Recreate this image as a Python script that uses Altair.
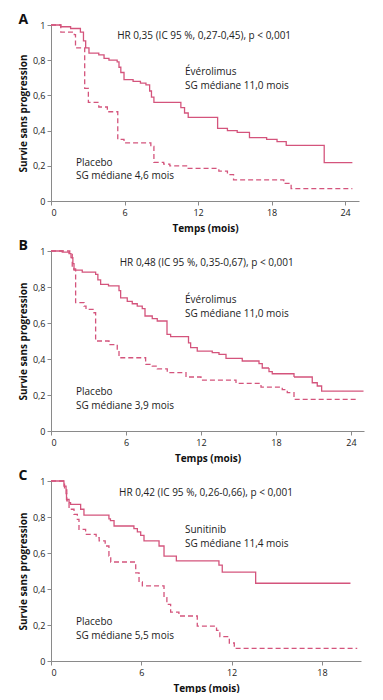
import altair as alt
import pandas as pd

FONT = "Open Sans"
PINK = "#d4547c"
AXIS_GREY = "#8a8a8a"
TEXT = "#222222"

# ---------------- Panel A ----------------
a_evero_t = [0, 0.8, 1.6, 2.4, 2.65, 2.83, 3.1, 3.9, 4.33, 4.73, 5.4, 5.55, 5.7, 5.96, 6.7, 7.3, 7.75,
             8.05, 8.2, 8.4, 10.6, 10.9, 11.2, 13.6, 14.4, 15.2, 16.2, 17.6, 18.45, 19.2, 22.3, 24.6]
a_evero_s = [1.0, 0.99, 0.98, 0.96, 0.91, 0.87, 0.84, 0.83, 0.81, 0.80, 0.79, 0.76, 0.73, 0.69, 0.68, 0.67, 0.66,
             0.625, 0.59, 0.56, 0.53, 0.50, 0.475, 0.413, 0.40, 0.39, 0.36, 0.35, 0.337, 0.316, 0.218, 0.218]
a_plac_t = [0, 0.8, 1.9, 2.0, 2.75, 3.05, 3.9, 4.6, 5.45, 5.96, 8.15, 8.4, 9.2, 9.7, 11.2, 13.7, 14.4, 14.9,
            19.0, 19.6, 24.6]
a_plac_s = [1.0, 0.96, 0.945, 0.87, 0.64, 0.56, 0.534, 0.507, 0.35, 0.33, 0.31, 0.22, 0.21, 0.20, 0.185, 0.17,
            0.15, 0.12, 0.10, 0.07, 0.07]

# ---------------- Panel B ----------------
b_evero_t = [0, 0.9, 1.44, 1.6, 1.75, 1.84, 2.5, 3.57, 3.75, 3.97, 4.6, 5.44, 5.57, 6.1, 6.5, 6.9, 7.3, 7.52,
             8.1, 8.5, 9.28, 9.57, 11.0, 11.17, 11.7, 12.9, 13.44, 14.0, 15.3, 16.64, 16.9, 17.44, 17.7, 19.44,
             20.9, 21.3, 21.65, 25.0]
b_evero_s = [1.0, 0.994, 0.985, 0.963, 0.93, 0.894, 0.883, 0.87, 0.84, 0.815, 0.806, 0.78, 0.74, 0.72, 0.707,
             0.694, 0.68, 0.639, 0.624, 0.611, 0.537, 0.524, 0.49, 0.463, 0.444, 0.435, 0.426, 0.404, 0.389,
             0.374, 0.35, 0.33, 0.318, 0.30, 0.268, 0.25, 0.222, 0.222]
b_plac_t = [0, 1.5, 1.7, 1.97, 2.64, 2.8, 3.44, 3.57, 4.64, 5.3, 5.44, 7.57, 8.1, 8.5, 9.3, 10.8, 12.0, 14.8,
            16.8, 18.5, 18.9, 19.44, 24.4]
b_plac_s = [1.0, 0.99, 0.90, 0.713, 0.694, 0.676, 0.657, 0.50, 0.48, 0.45, 0.407, 0.37, 0.36, 0.345, 0.324,
            0.30, 0.283, 0.265, 0.244, 0.23, 0.213, 0.176, 0.176]

# ---------------- Panel C ----------------
c_suni_t = [0, 0.86, 1.0, 1.03, 1.2, 1.3, 1.97, 2.19, 3.85, 3.95, 4.19, 5.51, 5.74, 5.96, 6.18, 7.18, 7.51,
            8.33, 11.16, 11.38, 13.6, 19.9]
c_suni_s = [1.0, 0.972, 0.93, 0.898, 0.88, 0.87, 0.843, 0.81, 0.79, 0.78, 0.75, 0.735, 0.717, 0.698, 0.667,
            0.639, 0.583, 0.556, 0.533, 0.494, 0.432, 0.432]
c_plac_t = [0, 0.9, 1.05, 1.2, 1.53, 1.75, 1.86, 2.3, 3.0, 3.2, 3.6, 3.85, 3.97, 5.63, 5.85, 6.07, 7.51, 7.7,
            7.95, 8.5, 9.72, 11.0, 11.22, 11.85, 12.18, 20.35]
c_plac_s = [1.0, 0.95, 0.89, 0.843, 0.815, 0.787, 0.731, 0.704, 0.685, 0.667, 0.639, 0.583, 0.55, 0.49, 0.439,
            0.417, 0.352, 0.315, 0.272, 0.25, 0.194, 0.17, 0.135, 0.10, 0.07, 0.07]

y_ticks = [0, 0.2, 0.4, 0.6, 0.8, 1]
y_label_expr = ("datum.value < 0.1 ? '0' : datum.value < 0.3 ? '0,2' : datum.value < 0.5 ? '0,4' : "
                "datum.value < 0.7 ? '0,6' : datum.value < 0.9 ? '0,8' : '1'")


def panel(letter, treat, t1, s1, t0, s0, xmax, xticks, width, height,
          hr_text, hr_pos, treat_lines, treat_pos, plac_lines, plac_pos):
    df = pd.concat([
        pd.DataFrame({"t": t1, "s": s1, "grp": treat}),
        pd.DataFrame({"t": t0, "s": s0, "grp": "Placebo"}),
    ])
    step = 13.5 / height
    # positions given are the centres of the two-line blocks
    notes = [(hr_pos[0], hr_pos[1], hr_text)]
    notes += [(treat_pos[0], treat_pos[1] + step / 2 - i * step, txt) for i, txt in enumerate(treat_lines)]
    notes += [(plac_pos[0], plac_pos[1] + step / 2 - i * step, txt) for i, txt in enumerate(plac_lines)]
    notes_df = pd.DataFrame(notes, columns=["t", "s", "label"])

    x = alt.X("t:Q", scale=alt.Scale(domain=[0, xmax], nice=False),
              axis=alt.Axis(values=xticks, title="Temps (mois)", labelPadding=3, titlePadding=6))
    y = alt.Y("s:Q", scale=alt.Scale(domain=[0, 1], nice=False),
              axis=alt.Axis(values=y_ticks, title="Survie sans progression", labelExpr=y_label_expr,
                            labelOverlap=False, labelBound=False))
    lines = alt.Chart(df).mark_line(interpolate="step-after", strokeWidth=1.3, color=PINK).encode(
        x=x, y=y,
        strokeDash=alt.StrokeDash("grp:N", scale=alt.Scale(domain=[treat, "Placebo"],
                                                          range=[[1, 0], [5, 3]]), legend=None),
    )
    texts = alt.Chart(notes_df).mark_text(align="left", baseline="middle", font=FONT, fontSize=10,
                                          color=TEXT).encode(x=x, y=y, text="label:N")

    return alt.layer(lines, texts).properties(
        width=width, height=height,
        title=alt.TitleParams(letter, anchor="start", frame="bounds", fontSize=14, fontWeight="bold",
                              font=FONT, color="#111111", offset=-6),
    )


pa = panel("A", "Évérolimus", a_evero_t, a_evero_s, a_plac_t, a_plac_s, 25.14, [0, 6, 12, 18, 24], 308, 176,
           "HR 0,35 (IC 95 %, 0,27-0,45), p < 0,001", (5.4, 0.9375),
           ["Évérolimus", "SG médiane 11,0 mois"], (10.94, 0.693),
           ["Placebo", "SG médiane 4,6 mois"], (2.04, 0.179))
pb = panel("B", "Évérolimus", b_evero_t, b_evero_s, b_plac_t, b_plac_s, 25.04, [0, 6, 12, 18, 24], 313, 180,
           "HR 0,48 (IC 95 %, 0,35-0,67), p < 0,001", (5.5, 0.933),
           ["Évérolimus", "SG médiane 11,0 mois"], (10.72, 0.688),
           ["Placebo", "SG médiane 3,9 mois"], (2.0, 0.179))
pc = panel("C", "Sunitinib", c_suni_t, c_suni_s, c_plac_t, c_plac_s, 20.6, [0, 6, 12, 18], 310, 180,
           "HR 0,42 (IC 95 %, 0,26-0,66), p < 0,001", (4.52, 0.933),
           ["Sunitinib", "SG médiane 11,4 mois"], (8.9, 0.688),
           ["Placebo", "SG médiane 5,5 mois"], (1.66, 0.179))

chart = alt.vconcat(pa, pb, pc, spacing=6).properties(
    padding={"left": 10, "top": 5, "right": 0, "bottom": 0},
    background="white",
).configure_view(stroke=None).configure_axis(
    grid=False, domainColor=AXIS_GREY, tickColor=AXIS_GREY, tickSize=4, labelPadding=2,
    labelFont=FONT, labelFontSize=9, labelColor=TEXT, titleFont=FONT, titleFontSize=10,
    titleFontWeight="bold", titleColor="#111111", titlePadding=4, labelOverlap=False,
)

chart.save("out.html", embed_options={"renderer": "svg", "actions": False})
